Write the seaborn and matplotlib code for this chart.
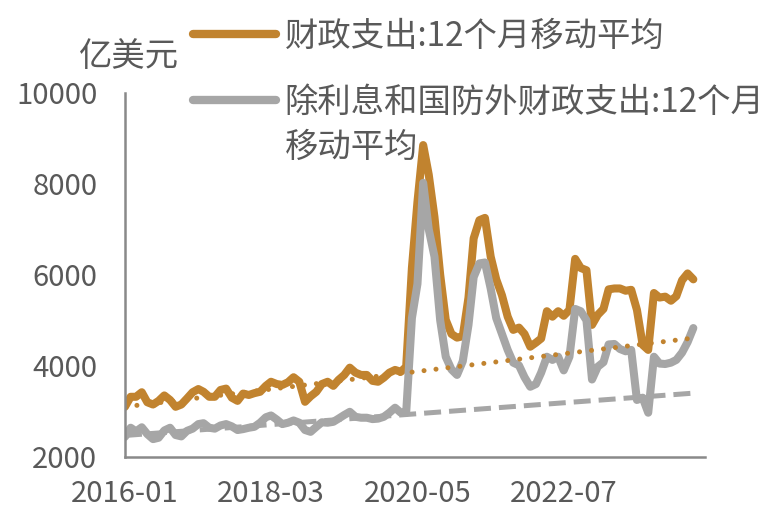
import numpy as np
import pandas as pd
import matplotlib
matplotlib.use('Agg')
import matplotlib.pyplot as plt
import matplotlib.dates as mdates
from matplotlib.lines import Line2D
import seaborn as sns

# monthly, 2016-01 .. 2024-06 (亿美元)
months = pd.date_range('2016-01-01', periods=102, freq='MS')

total_spend = [
    3100, 3320, 3320, 3420, 3200, 3150, 3230, 3350, 3250, 3100,
    3150, 3280, 3420, 3490, 3430, 3320, 3320, 3470, 3500, 3300,
    3230, 3390, 3360, 3400, 3430, 3560, 3650, 3600, 3580, 3640,
    3750, 3650, 3210, 3330, 3430, 3600, 3650, 3560, 3690, 3800,
    3960, 3850, 3800, 3800, 3670, 3650, 3740, 3850, 3910, 3870,
    3980, 6150, 7600, 8850, 8200, 7270, 6000, 5010, 4700, 4620,
    4650, 5500, 6800, 7200, 7250, 6400, 5900, 5550, 5080, 4790,
    4840, 4700, 4420, 4510, 4600, 5200, 5080, 5200, 5100, 5230,
    6350, 6150, 6100, 4900, 5120, 5250, 5680, 5700, 5700, 5650,
    5670, 5230, 4460, 4350, 5600, 5500, 5520, 5430, 5530, 5880,
    6030, 5900,
]

ex_interest_defense = [
    2440, 2640, 2560, 2650, 2500, 2390, 2420, 2580, 2640, 2480,
    2450, 2570, 2620, 2720, 2740, 2640, 2620, 2690, 2720, 2670,
    2590, 2610, 2640, 2660, 2750, 2870, 2910, 2820, 2720, 2750,
    2800, 2750, 2590, 2550, 2660, 2760, 2750, 2770, 2840, 2920,
    2990, 2880, 2860, 2860, 2830, 2840, 2880, 2970, 3080, 2970,
    2970, 5050, 5800, 8020, 7000, 6400, 5000, 4200, 3920, 3800,
    4100, 4900, 5950, 6250, 6270, 5700, 5050, 4700, 4350, 4070,
    4010, 3750, 3540, 3600, 3850, 4200, 4130, 4200, 3900, 4200,
    5250, 5200, 5000, 3700, 3980, 4080, 4470, 4480, 4370, 4320,
    4350, 3250, 3300, 2970, 4200, 4050, 4040, 4070, 4130, 4290,
    4520, 4830,
]

# linear trend end points (start month, end month)
trend_dates = [months[0], months[-1]]
trend_total = [3100, 4610]
trend_ex = [2470, 3400]

tick_dates = ['2016-01-01', '2018-03-01', '2020-05-01', '2022-07-01']
y_ticks = [2000, 4000, 6000, 8000, 10000]

label_total = '财政支出:12个月移动平均'
label_ex_1 = '除利息和国防外财政支出:12个月'
label_ex_2 = '移动平均'

orange = '#C1832F'
gray = '#A6A6A6'
text_color = '#595959'
axis_color = '#898989'

sns.set_style('white')
plt.rcParams['font.family'] = ['Noto Sans CJK SC', 'DejaVu Sans']

df = pd.DataFrame({'date': months, 'total': total_spend, 'ex': ex_interest_defense})

fig = plt.figure(figsize=(7.76, 5.18), dpi=100)
ax = fig.add_axes([0.161, 0.118, 0.747, 0.703])

sns.lineplot(data=df, x='date', y='total', color=orange, lw=5.8, ax=ax)
sns.lineplot(data=df, x='date', y='ex', color=gray, lw=5.8, ax=ax)
sns.lineplot(x=trend_dates, y=trend_total, color=orange, lw=3.6,
             linestyle=(0, (0.01, 2.4)), dash_capstyle='round', ax=ax)
sns.lineplot(x=trend_dates, y=trend_ex, color=gray, lw=3.6,
             linestyle=(0, (3.4, 1.6)), ax=ax)

ax.set_xlim(pd.Timestamp('2016-01-01'), pd.Timestamp('2024-08-01'))
ax.set_ylim(2000, 10000)
ax.set_yticks(y_ticks)
ax.set_xticks(pd.to_datetime(tick_dates))
ax.xaxis.set_major_formatter(mdates.DateFormatter('%Y-%m'))
ax.set_xlabel('')
ax.set_ylabel('')

for side in ['top', 'right']:
    ax.spines[side].set_visible(False)
for side in ['left', 'bottom']:
    ax.spines[side].set_color(axis_color)
    ax.spines[side].set_linewidth(1.8)

ax.tick_params(axis='both', direction='in', length=6, width=1.8,
               color=axis_color, labelsize=21, labelcolor=text_color)
ax.tick_params(axis='y', pad=20)
ax.tick_params(axis='x', pad=16)

ax.text(0.007, 1.10, '亿美元', transform=ax.transAxes, ha='center', va='center',
        fontsize=24, color=text_color)

leg1 = ax.legend(handles=[Line2D([], [], color=orange, lw=6)], labels=[label_total],
                 loc='upper left', bbox_to_anchor=(0.2487, 0.964),
                 bbox_transform=fig.transFigure, frameon=False, fontsize=24,
                 handlelength=2.5, handletextpad=0.25, borderpad=0, borderaxespad=0,
                 labelcolor=text_color)
ax.add_artist(leg1)
ax.legend(handles=[Line2D([], [], color=gray, lw=6), Line2D([], [], color='none')],
          labels=[label_ex_1, label_ex_2],
          loc='upper left', bbox_to_anchor=(0.2487, 0.837),
          bbox_transform=fig.transFigure, frameon=False, fontsize=24,
          handlelength=2.5, handletextpad=0.25, borderpad=0, borderaxespad=0,
          labelspacing=0.32, labelcolor=text_color)

fig.savefig('out.png', dpi=100)
